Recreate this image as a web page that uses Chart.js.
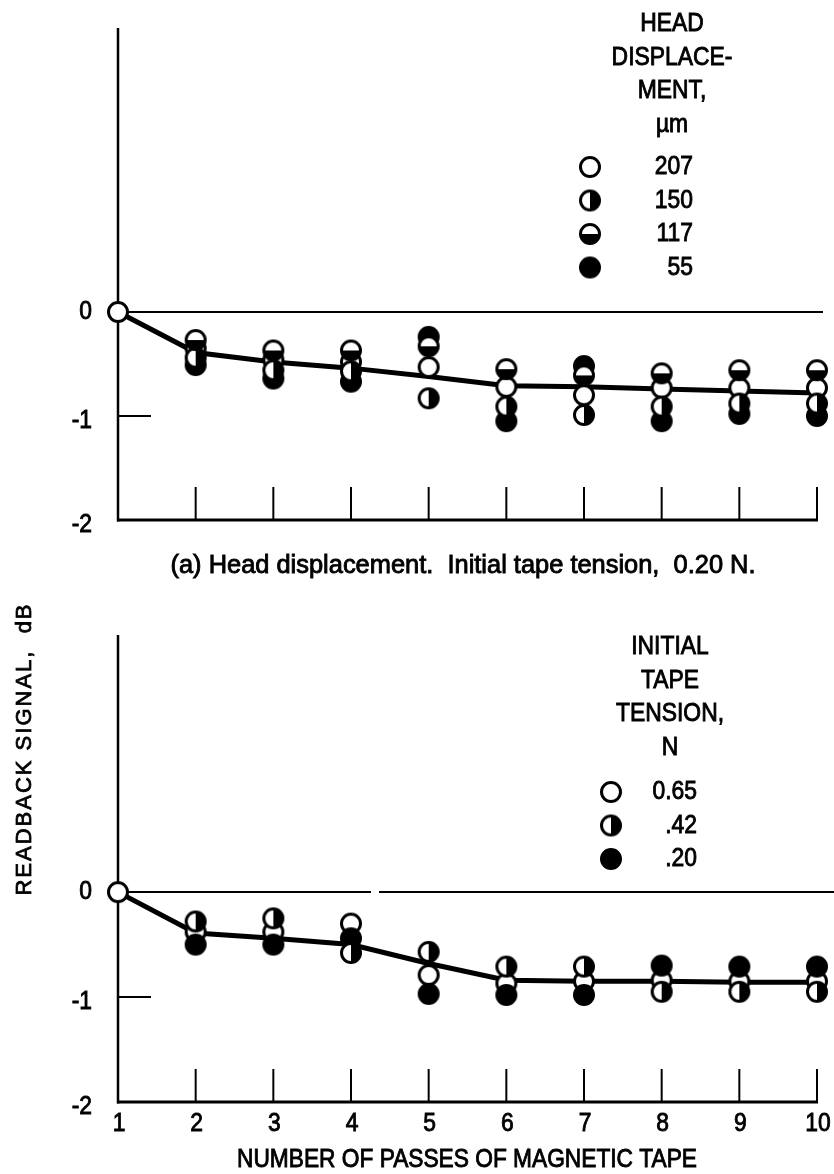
<!DOCTYPE html>
<html>
<head>
<meta charset="utf-8">
<script src="https://cdn.jsdelivr.net/npm/chart.js@4"></script>
<style>
  html, body { margin: 0; padding: 0; background: #fff; }
  #wrap { position: relative; width: 834px; height: 1174px; }
  .panel { position: absolute; left: 0; width: 834px; }
</style>
</head>
<body>
<div id="wrap">
  <div class="panel" style="top:0;height:600px"><canvas id="chart-a" width="834" height="600"></canvas></div>
  <div class="panel" style="top:600px;height:574px"><canvas id="chart-b" width="834" height="574"></canvas></div>
</div>
<script>
/* readback signal vs passes — two stacked panels */

const passes = [1, 2, 3, 4, 5, 6, 7, 8, 9, 10];
const yTicks = [0, -1, -2];

// (a) head displacement, um
const dispLabels = ['207', '150', '117', '55'];
const disp207 = [0, -0.35, -0.46, -0.48, -0.53, -0.72, -0.80, -0.73, -0.73, -0.73];
const disp150 = [null, -0.44, -0.56, -0.57, -0.83, -0.91, -0.99, -0.91, -0.88, -0.88];
const disp117 = [null, -0.27, -0.37, -0.37, -0.33, -0.55, -0.61, -0.59, -0.56, -0.56];
const disp55 = [null, -0.51, -0.64, -0.67, -0.24, -1.05, -0.52, -1.05, -0.98, -1.00];
const dispFit = [0, -0.39, -0.48, -0.54, -0.62, -0.71, -0.72, -0.74, -0.76, -0.78];
const dispHeader = ['HEAD', 'DISPLACE-', 'MENT,', 'µm'];

// (b) initial tape tension, N
const tensLabels = ['0.65', '.42', '.20'];
const tens065 = [0, -0.38, -0.38, -0.30, -0.79, -0.87, -0.85, -0.84, -0.85, -0.85];
const tens042 = [null, -0.28, -0.25, -0.58, -0.57, -0.71, -0.71, -0.95, -0.95, -0.95];
const tens020 = [null, -0.50, -0.50, -0.44, -0.97, -0.98, -0.98, -0.70, -0.71, -0.71];
const tensFit = [0, -0.39, -0.44, -0.50, -0.68, -0.84, -0.85, -0.85, -0.86, -0.86];
const tensHeader = ['INITIAL', 'TAPE', 'TENSION,', 'N'];

const captionA = '(a) Head displacement.  Initial tape tension,  0.20 N.';
const xTitle = 'NUMBER OF PASSES OF MAGNETIC TAPE';
const yTitle = 'READBACK SIGNAL,  dB';

const FONT = '"Liberation Sans", Arial, sans-serif';
const SIZE = 26;

function makeMarker(kind) {
  const s = 26, m = s / 2, r = 9.5;
  const c = document.createElement('canvas');
  c.width = s; c.height = s;
  const g = c.getContext('2d');
  g.beginPath(); g.arc(m, m, r, 0, Math.PI * 2);
  g.fillStyle = kind === 'full' ? '#000' : '#fff';
  g.fill();
  g.fillStyle = '#000';
  if (kind === 'right') {
    g.beginPath(); g.arc(m, m, r, -Math.PI / 2, Math.PI / 2); g.closePath(); g.fill();
  }
  if (kind === 'bottom') {
    g.beginPath(); g.arc(m, m, r, 0, Math.PI); g.closePath(); g.fill();
  }
  g.lineWidth = 3; g.strokeStyle = '#000';
  g.beginPath(); g.arc(m, m, r, 0, Math.PI * 2); g.stroke();
  return c;
}

const markers = {
  open: makeMarker('open'),
  right: makeMarker('right'),
  bottom: makeMarker('bottom'),
  full: makeMarker('full')
};

function pts(arr) {
  return passes.map((p, i) => ({ x: p, y: arr[i] })).filter(d => d.y !== null);
}

// condensed text with slightly thickened strokes; fitW squeezes to a width
function text(ctx, s, x, y, align, size, sx, fitW) {
  ctx.save();
  ctx.font = size + 'px ' + FONT;
  ctx.fillStyle = '#000';
  ctx.strokeStyle = '#000';
  ctx.lineWidth = 0.9;
  ctx.textAlign = align;
  ctx.textBaseline = 'middle';
  let k = sx || 0.88;
  if (fitW) k = fitW / ctx.measureText(s).width;
  ctx.translate(x, y);
  ctx.scale(k, 1);
  ctx.fillText(s, 0, 0);
  ctx.strokeText(s, 0, 0);
  ctx.restore();
}

function line(ctx, x1, y1, x2, y2, w) {
  ctx.beginPath();
  ctx.lineWidth = w;
  ctx.moveTo(x1, y1);
  ctx.lineTo(x2, y2);
  ctx.stroke();
}

const framePlugin = {
  id: 'frame',
  beforeDatasetsDraw(chart, args, o) {
    const { ctx, chartArea } = chart;
    const xs = chart.scales.x, ys = chart.scales.y;
    ctx.save();
    ctx.strokeStyle = '#000';
    ctx.lineCap = 'butt';
    const x0 = xs.getPixelForValue(1);
    const yb = ys.getPixelForValue(-2);
    const y0 = ys.getPixelForValue(0);
    line(ctx, x0, chartArea.top, x0, yb + 1.5, 2.5);
    line(ctx, x0 - 1, yb, xs.getPixelForValue(10) + 1, yb, 3);
    (o.zeroSegs || [[x0, o.zeroEnd]]).forEach(sg => line(ctx, sg[0], y0, sg[1], y0, 2));
    line(ctx, x0, ys.getPixelForValue(-1), x0 + 33, ys.getPixelForValue(-1), 2);
    passes.slice(1).forEach(p => {
      const px = xs.getPixelForValue(p);
      line(ctx, px, yb, px, yb - 33, 2);
    });
    ctx.restore();
  },
  afterDraw(chart, args, o) {
    const { ctx } = chart;
    const xs = chart.scales.x, ys = chart.scales.y;
    yTicks.forEach(v => {
      text(ctx, String(v), 92, ys.getPixelForValue(v) + (v === 0 ? 0 : 5), 'right', SIZE);
    });
    if (o.xLabels) {
      passes.forEach(p => text(ctx, String(p), xs.getPixelForValue(p) + 1, o.xLabelY, 'center', SIZE));
    }
    // legend block
    const lg = o.legend;
    lg.header.forEach((h, i) => text(ctx, h, lg.cx, lg.headY + i * lg.step, 'center', SIZE));
    lg.items.forEach((it, i) => {
      const y = lg.itemY + i * lg.step;
      ctx.drawImage(markers[it.marker], lg.mx - 13, y - 13);
      text(ctx, it.label, lg.tx, y, 'right', SIZE);
    });
    (o.texts || []).forEach(t => {
      if (t.rotate) {
        ctx.save();
        ctx.translate(t.x, t.y);
        ctx.rotate(-Math.PI / 2);
        ctx.font = t.size + 'px ' + FONT;
        ctx.letterSpacing = t.spacing + 'px';
        ctx.fillStyle = '#000';
        ctx.strokeStyle = '#000';
        ctx.lineWidth = 0.8;
        ctx.textAlign = 'center';
        ctx.textBaseline = 'middle';
        ctx.fillText(t.s, 0, 0);
        ctx.strokeText(t.s, 0, 0);
        ctx.restore();
      } else {
        text(ctx, t.s, t.x, t.y, 'center', t.size, null, t.w);
      }
    });
  }
};

function build(id, series, fit, yMax, pad, frame) {
  const datasets = series.map(s => ({
    label: s.label,
    data: pts(s.data),
    pointStyle: markers[s.marker],
    pointRadius: 11,
    showLine: false,
    clip: false,
    order: s.order
  }));
  datasets.push({
    label: 'fit',
    data: pts(fit),
    type: 'line',
    showLine: true,
    borderColor: '#000',
    borderWidth: 5,
    pointRadius: 0,
    tension: 0,
    clip: false,
    order: 10
  });
  return new Chart(document.getElementById(id), {
    type: 'scatter',
    data: { datasets },
    options: {
      responsive: false,
      animation: false,
      devicePixelRatio: 1,
      layout: { padding: pad },
      scales: {
        x: { type: 'linear', min: 1, max: 10, display: false },
        y: { type: 'linear', min: -2, max: yMax, display: false }
      },
      plugins: {
        legend: { display: false },
        tooltip: { enabled: false },
        frame
      }
    },
    plugins: [framePlugin]
  });
}

build('chart-a', [
  { label: dispLabels[0], data: disp207, marker: 'open', order: 5 },
  { label: dispLabels[1], data: disp150, marker: 'right', order: 2 },
  { label: dispLabels[2], data: disp117, marker: 'bottom', order: 1 },
  { label: dispLabels[3], data: disp55, marker: 'full', order: 3 }
], dispFit, 2.73, { left: 118, right: 17, top: 28, bottom: 80 }, {
  zeroEnd: 823,
  xLabels: false,
  legend: {
    header: dispHeader, cx: 672, headY: 24, step: 33.5, itemY: 167, mx: 590, tx: 693,
    items: [
      { label: dispLabels[0], marker: 'open' },
      { label: dispLabels[1], marker: 'right' },
      { label: dispLabels[2], marker: 'bottom' },
      { label: dispLabels[3], marker: 'full' }
    ]
  },
  texts: [{ s: captionA, x: 463, y: 566, size: SIZE, w: 585 }]
});

build('chart-b', [
  { label: tensLabels[0], data: tens065, marker: 'open', order: 5 },
  { label: tensLabels[1], data: tens042, marker: 'right', order: 1 },
  { label: tensLabels[2], data: tens020, marker: 'full', order: 2 }
], tensFit, 2.45, { left: 118, right: 17, top: 35, bottom: 72 }, {
  zeroSegs: [[118, 371], [379, 834]],
  xLabels: true,
  xLabelY: 524,
  legend: {
    header: tensHeader, cx: 670, headY: 47, step: 33.5, itemY: 192, mx: 611, tx: 697,
    items: [
      { label: tensLabels[0], marker: 'open' },
      { label: tensLabels[1], marker: 'right' },
      { label: tensLabels[2], marker: 'full' }
    ]
  },
  texts: [
    { s: xTitle, x: 467, y: 560, size: SIZE, w: 460 },
    { s: yTitle, x: 25, y: 149, size: 22, rotate: true, spacing: 2 }
  ]
});
</script>
</body>
</html>
